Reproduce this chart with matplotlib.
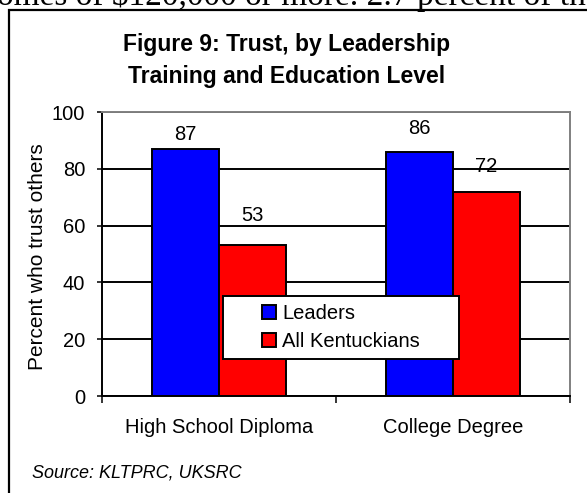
import matplotlib
matplotlib.use("Agg")
import matplotlib.pyplot as plt
from matplotlib.patches import Rectangle, Patch
import numpy as np

# data
categories = ["High School Diploma", "College Degree"]
series = ["Leaders", "All Kentuckians"]
leaders = [87, 86]
all_ky = [53, 72]
yticks = [0, 20, 40, 60, 80, 100]

colors = ["#0000FF", "#FF0000"]
# label offsets above bar tops (points), per series then category
label_pad = [[6.5, 13], [17.3, 14.4]]

plt.rcParams["font.family"] = ["Liberation Sans", "DejaVu Sans"]

W, H = 587, 493
fig = plt.figure(figsize=(W / 100, H / 100), dpi=100)


def fx(px):
    return px / W


def fy(py):
    return (H - py) / H


# running text from the page, cut at the top
fig.text(fx(-3), fy(4.5), "omes of $120,000 or more. 2.7 percent of th",
         family="Liberation Serif", fontsize=24, ha="left", va="baseline")

# outer chart frame (runs off the right and bottom)
fig.patches.append(Rectangle((fx(8.5), fy(700)), 1.2, fy(9.5) - fy(700),
                             transform=fig.transFigure, fill=False,
                             edgecolor="black", linewidth=1.6))

ax = fig.add_axes([fx(102), fy(396), fx(570) - fx(102), fy(112) - fy(396)])

x = np.arange(len(categories))
w = 0.285
vals = [leaders, all_ky]
for i, (name, v) in enumerate(zip(series, vals)):
    xs = x + (i - 0.5) * w
    ax.bar(xs, v, width=w, color=colors[i], edgecolor="black",
           linewidth=1.4, label=name, zorder=3)
    for j in range(len(categories)):
        ax.annotate(str(v[j]), (xs[j], v[j]), xytext=(0, label_pad[i][j]),
                    textcoords="offset points", ha="center", va="baseline",
                    fontsize=14.5, zorder=4)

ax.set_xlim(-0.5, 1.5)
ax.set_ylim(0, 100)
ax.set_yticks(yticks)
ax.set_xticks(x)
ax.set_xticklabels(categories)
ax.set_xticks([-0.5, 0.5, 1.5], minor=True)
ax.tick_params(axis="x", which="major", length=0, pad=16, labelsize=14.5)
ax.tick_params(axis="x", which="minor", length=5, width=1.1, direction="out")
ax.tick_params(axis="y", length=3.6, width=1.1, pad=8.5, labelsize=14.5)

ax.set_axisbelow(True)
ax.yaxis.grid(True, color="black", linewidth=1.4)
for side in ["left", "bottom"]:
    ax.spines[side].set_color("black")
    ax.spines[side].set_linewidth(1.4)
for side in ["top", "right"]:
    ax.spines[side].set_color("#808080")
    ax.spines[side].set_linewidth(1.4)

fig.text(fx(38), fy(257), "Percent who trust others", rotation=90,
         fontsize=15, ha="center", va="center")

fig.text(fx(287), fy(51), "Figure 9: Trust, by Leadership",
         fontsize=16.5, fontweight="bold", ha="center", va="baseline")
fig.text(fx(287), fy(83), "Training and Education Level",
         fontsize=16.5, fontweight="bold", ha="center", va="baseline")

fig.text(fx(32), fy(477), "Source: KLTPRC, UKSRC", fontsize=13,
         style="italic", ha="left", va="baseline")

# legend box drawn separately so the entries sit centred in it
bx0, bx1, by0, by1 = 223, 459, 296, 359
box = Rectangle(((bx0 - 102) / 468, (396 - by1) / 284),
                (bx1 - bx0) / 468, (by1 - by0) / 284,
                transform=ax.transAxes, facecolor="white", edgecolor="black",
                linewidth=1.4, zorder=5, clip_on=False)
ax.add_patch(box)
handles = [Patch(facecolor=c, edgecolor="black", linewidth=1.4) for c in colors]
leg = ax.legend(handles, series, loc="center",
                bbox_to_anchor=(((bx0 + bx1) / 2 - 102) / 468,
                                (396 - (by0 + by1) / 2) / 284),
                frameon=False, fontsize=14.5, handlelength=0.72,
                handleheight=0.72, handletextpad=0.3, labelspacing=0.45,
                borderpad=0, borderaxespad=0)
leg.set_zorder(6)

fig.savefig("out.png", dpi=100)
